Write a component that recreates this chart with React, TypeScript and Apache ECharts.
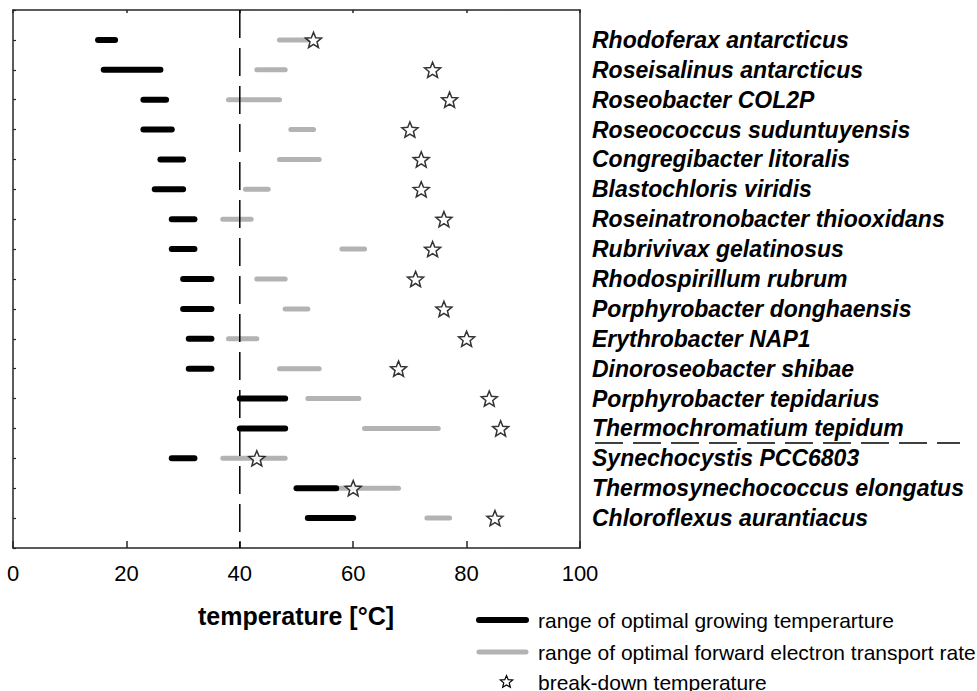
import React, { useEffect, useRef } from "react";
import * as echarts from "echarts";

// Species, top to bottom
const species = [
  "Rhodoferax antarcticus",
  "Roseisalinus antarcticus",
  "Roseobacter COL2P",
  "Roseococcus suduntuyensis",
  "Congregibacter litoralis",
  "Blastochloris viridis",
  "Roseinatronobacter thiooxidans",
  "Rubrivivax gelatinosus",
  "Rhodospirillum rubrum",
  "Porphyrobacter donghaensis",
  "Erythrobacter NAP1",
  "Dinoroseobacter shibae",
  "Porphyrobacter tepidarius",
  "Thermochromatium tepidum",
  "Synechocystis PCC6803",
  "Thermosynechococcus elongatus",
  "Chloroflexus aurantiacus",
];

// Optimal growing temperature range [°C]
const growLow = [15, 16, 23, 23, 26, 25, 28, 28, 30, 30, 31, 31, 40, 40, 28, 50, 52];
const growHigh = [18, 26, 27, 28, 30, 30, 32, 32, 35, 35, 35, 35, 48, 48, 32, 57, 60];

// Optimal forward electron transport rate range [°C]
const etrLow = [47, 43, 38, 49, 47, 41, 37, 58, 43, 48, 38, 47, 52, 62, 37, 57, 73];
const etrHigh = [52, 48, 47, 53, 54, 45, 42, 62, 48, 52, 43, 54, 61, 75, 48, 68, 77];

// Break-down temperature [°C]
const breakdown = [53, 74, 77, 70, 72, 72, 76, 74, 71, 76, 80, 68, 84, 86, 43, 60, 85];

const xTicks = [0, 20, 40, 60, 80, 100];
const referenceTemp = 40;

const legendLabels = [
  "range of optimal growing temperarture",
  "range of optimal forward electron transport rate",
  "break-down temperature",
];

const FONT = "'Liberation Sans', Arial, Helvetica, sans-serif";

function starPoints(cx: number, cy: number, outer: number, inner: number): number[][] {
  const pts: number[][] = [];
  for (let i = 0; i < 10; i++) {
    const r = i % 2 === 0 ? outer : inner;
    const a = ((-90 + 36 * i) * Math.PI) / 180;
    pts.push([cx + r * Math.cos(a), cy + r * Math.sin(a)]);
  }
  return pts;
}

function starSymbol(): string {
  const pts = starPoints(50, 50, 50, 22);
  return "path://" + pts.map((p, i) => (i === 0 ? "M" : "L") + p[0].toFixed(2) + " " + p[1].toFixed(2)).join(" ") + " Z";
}

function rangeSeries(low: number[], high: number[], color: string, width: number, z: number) {
  return {
    type: "custom",
    xAxisIndex: 0,
    yAxisIndex: 0,
    z,
    data: low.map((lo, i) => [lo, high[i], i + 1]),
    encode: { x: [0, 1], y: 2 },
    renderItem: (_params: any, api: any) => {
      const a = api.coord([api.value(0), api.value(2)]);
      const b = api.coord([api.value(1), api.value(2)]);
      return {
        type: "line",
        shape: { x1: a[0], y1: a[1], x2: b[0], y2: b[1] },
        style: { stroke: color, lineWidth: width, lineCap: "round" },
      };
    },
  };
}

export default function App() {
  const ref = useRef<HTMLDivElement>(null);

  useEffect(() => {
    if (!ref.current) return;
    const chart = echarts.init(ref.current, null, { renderer: "svg" });
    const axisColor = "#262626";
    const rows = species.length + 1;

    const xCommon = {
      type: "value",
      min: xTicks[0],
      max: xTicks[xTicks.length - 1],
      interval: 20,
      splitLine: { show: false },
      axisLine: { show: true, onZero: false, lineStyle: { color: axisColor, width: 1.5 } },
    };
    const yCommon = {
      type: "value",
      min: 0,
      max: rows,
      interval: 1,
      inverse: true,
      splitLine: { show: false },
      axisLine: { show: true, onZero: false, lineStyle: { color: axisColor, width: 1.5 } },
    };

    const legendY = [620, 652, 682];
    const legendStar = starPoints(506.5, legendY[2], 6.5, 2.9);

    chart.setOption({
      animation: false,
      backgroundColor: "#ffffff",
      grid: { left: 13, right: 397, top: 10, bottom: 143 },
      xAxis: [
        {
          ...xCommon,
          position: "bottom",
          axisTick: { show: true, inside: true, length: 7, lineStyle: { color: axisColor, width: 1.5 } },
          axisLabel: { show: true, color: "#000", fontSize: 22, fontFamily: FONT, margin: 14 },
        },
        {
          ...xCommon,
          position: "top",
          axisTick: { show: true, inside: true, length: 3, lineStyle: { color: axisColor, width: 1.5 } },
          axisLabel: { show: false },
        },
      ],
      yAxis: [
        {
          ...yCommon,
          position: "left",
          axisTick: { show: true, inside: true, length: 3, lineStyle: { color: axisColor, width: 1.2 } },
          axisLabel: { show: false },
        },
        {
          ...yCommon,
          position: "right",
          axisTick: { show: false },
          axisLabel: {
            show: true,
            color: "#000",
            fontSize: 23,
            fontWeight: "bold",
            fontStyle: "italic",
            fontFamily: FONT,
            margin: 12,
            formatter: (v: number) => (v >= 1 && v <= species.length ? species[v - 1] : ""),
          },
        },
      ],
      series: [
        rangeSeries(etrLow, etrHigh, "#b3b3b3", 5, 2),
        rangeSeries(growLow, growHigh, "#000000", 6, 3),
        {
          type: "line",
          xAxisIndex: 0,
          yAxisIndex: 0,
          z: 4,
          symbol: "none",
          data: [
            [referenceTemp, 0],
            [referenceTemp, rows],
          ],
          lineStyle: { color: "#000", width: 1.5, type: [28, 10] },
        },
        {
          type: "scatter",
          xAxisIndex: 0,
          yAxisIndex: 0,
          z: 5,
          symbol: starSymbol(),
          symbolSize: 16,
          symbolKeepAspect: true,
          itemStyle: { color: "#ffffff", borderColor: "#000", borderWidth: 1.5 },
          data: breakdown.map((t, i) => [t, i + 1]),
        },
      ],
      graphic: [
        {
          type: "text",
          x: 296,
          y: 616,
          style: {
            text: "temperature [°C]",
            fontSize: 25,
            fontWeight: "bold",
            fontFamily: FONT,
            fill: "#000",
            align: "center",
            verticalAlign: "middle",
          },
        },
        {
          type: "line",
          shape: { x1: 595, y1: 443, x2: 960, y2: 443 },
          style: { stroke: "#000", lineWidth: 1.5, lineDash: [28, 10] },
        },
        {
          type: "line",
          shape: { x1: 479, y1: legendY[0], x2: 526, y2: legendY[0] },
          style: { stroke: "#000", lineWidth: 6, lineCap: "round" },
        },
        {
          type: "line",
          shape: { x1: 479, y1: legendY[1], x2: 526, y2: legendY[1] },
          style: { stroke: "#b3b3b3", lineWidth: 5, lineCap: "round" },
        },
        {
          type: "polygon",
          shape: { points: legendStar },
          style: { fill: "#fff", stroke: "#000", lineWidth: 1.2 },
        },
        ...legendLabels.map((t, i) => ({
          type: "text",
          x: 538,
          y: legendY[i],
          style: {
            text: t,
            fontSize: 21,
            fontFamily: FONT,
            fill: "#000",
            align: "left",
            verticalAlign: "middle",
          },
        })),
      ],
    });

    return () => chart.dispose();
  }, []);

  return (
    <div
      ref={ref}
      style={{ position: "absolute", left: 0, top: 0, width: 977, height: 691, background: "#fff" }}
    />
  );
}
